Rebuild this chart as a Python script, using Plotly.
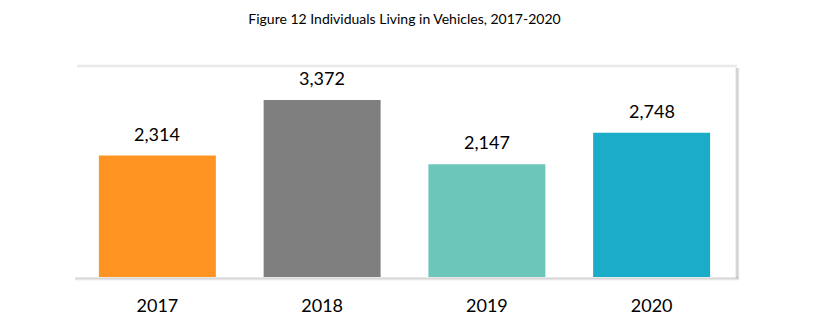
import plotly.graph_objects as go

years = ["2017", "2018", "2019", "2020"]
counts = [2314, 3372, 2147, 2748]
colors = ["#FF9422", "#7F7F7F", "#6CC6B9", "#1AACC9"]
title = "Figure 12 Individuals Living in Vehicles, 2017-2020"

W, H = 821, 334
L, R, T, B = 75, 87, 66, 57
pw, ph = W - L - R, H - T - B

fig = go.Figure(go.Bar(x=years, y=counts, marker_color=colors, marker_line_width=0,
                       width=0.71, hoverinfo="skip"))

for i, v in enumerate(counts):
    fig.add_annotation(x=i, y=v, text=f"{v:,}", showarrow=False, yanchor="bottom",
                       yshift=9, font=dict(family="Lato", size=18, color="#000"))

def px_x(p):
    return (p - L) / pw

def px_y(p):
    return (H - B - p) / ph

shapes = []
# top edge shadow
for off, col in [(-1, "rgba(0,0,0,0.05)"), (0, "rgba(0,0,0,0.12)"), (1, "rgba(0,0,0,0.06)")]:
    shapes.append(dict(type="line", xref="paper", yref="paper",
                       x0=px_x(77), x1=px_x(737), y0=px_y(66 + off), y1=px_y(66 + off),
                       line=dict(color=col, width=1)))
# right edge shadow
for off, col in [(0, "rgba(0,0,0,0.12)"), (1, "rgba(0,0,0,0.22)"), (2, "rgba(0,0,0,0.15)"), (3, "rgba(0,0,0,0.06)")]:
    shapes.append(dict(type="line", xref="paper", yref="paper",
                       x0=px_x(736 + off), x1=px_x(736 + off), y0=px_y(68), y1=px_y(278),
                       line=dict(color=col, width=1)))
# bottom edge
for off, col in [(0, "rgba(0,0,0,0.18)"), (1, "rgba(0,0,0,0.14)"), (2, "rgba(0,0,0,0.06)")]:
    shapes.append(dict(type="line", xref="paper", yref="paper",
                       x0=px_x(75), x1=px_x(739), y0=px_y(278 + off), y1=px_y(278 + off),
                       line=dict(color=col, width=1)))

fig.update_layout(
    width=W, height=H,
    margin=dict(l=L, r=R, t=T, b=B, pad=0),
    paper_bgcolor="white", plot_bgcolor="white",
    showlegend=False, bargap=0.29,
    title=dict(text=title, x=0.5, xanchor="center", xref="paper", y=1 - 19 / H, yanchor="middle",
               font=dict(family="Lato", size=14, color="#000")),
    shapes=shapes,
    xaxis=dict(type="category", range=[-0.5, 3.5], showgrid=False, showline=False, zeroline=False,
               ticks="outside", ticklen=12, tickcolor="rgba(0,0,0,0)",
               tickfont=dict(family="Lato", size=18, color="#000"), fixedrange=True),
    yaxis=dict(range=[0, 4019], visible=False, fixedrange=True),
)

fig.write_html("out.html", config={"displayModeBar": False})
